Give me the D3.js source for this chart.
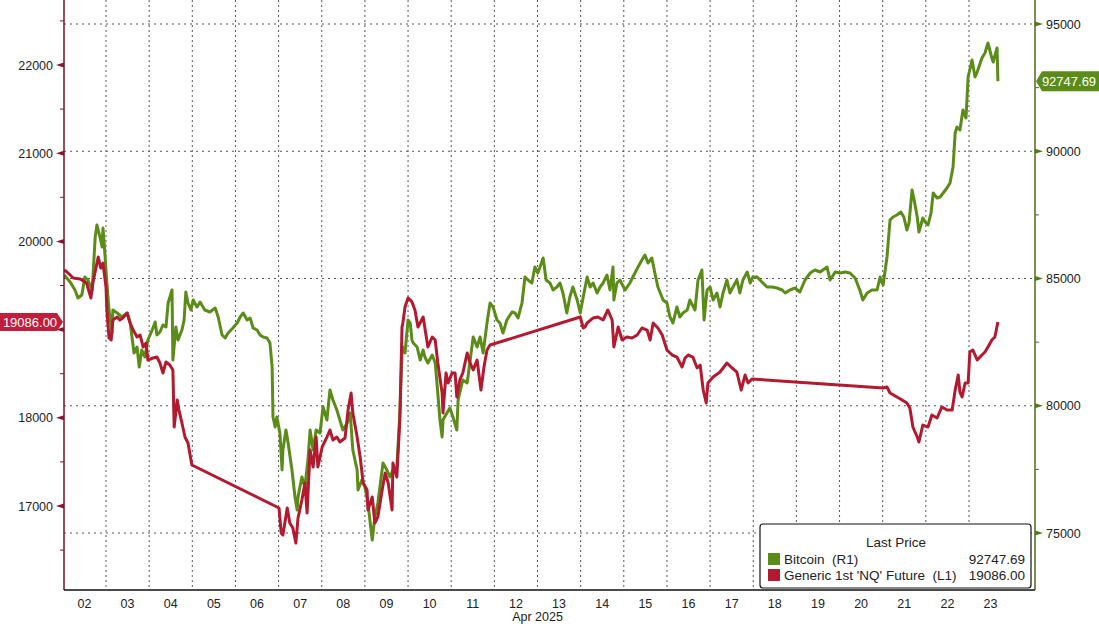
<!DOCTYPE html>
<html><head><meta charset="utf-8">
<script src="https://cdn.jsdelivr.net/npm/d3@7"></script>
<style>
body{margin:0;background:#fff;}
svg{display:block;font-family:"Liberation Sans",Arial,sans-serif;}
</style></head>
<body><svg id="c" width="1099" height="624"></svg>
<script>
// ---------- DATA ----------
const dayLabels = ["02","03","04","05","06","07","08","09","10","11","12","13","14","15","16","17","18","19","20","21","22","23"];
const monthLabel = "Apr 2025";
const leftTicks = [17000,18000,19000,20000,21000,22000];
const leftLabelTicks = [17000,18000,20000,21000,22000]; // 19000 hidden behind the last-price badge
const leftMinor = [16500,17500,18500,19500,20500,21500,22500];
const rightTicks = [75000,80000,85000,90000,95000];
const rightMinor = [77500,82500,87500,92500];
const seriesNames = ["Bitcoin  (R1)","Generic 1st 'NQ' Future  (L1)"];
const lastBtc = 92747.69;
const lastNq = 19086.00;

// NQ (left axis): time in days of April, value
const nqTimes = [2.03,2.09,2.24,2.40,2.55,2.65,2.70,2.82,2.88,2.93,3.00,3.02,3.07,3.12,3.16,3.26,3.32,3.39,3.49,3.56,3.63,3.72,3.79,3.86,3.93,3.97,4.09,4.18,4.25,4.32,4.39,4.48,4.55,4.58,4.65,4.69,4.76,4.83,4.90,4.99,
7.01,7.06,7.10,7.20,7.26,7.33,7.40,7.45,7.54,7.61,7.66,7.73,7.80,7.87,7.91,8.01,8.12,8.19,8.26,8.35,8.42,8.54,8.61,8.68,8.72,8.82,8.89,8.96,9.05,9.07,9.17,9.23,9.30,9.40,9.47,9.54,9.63,9.65,9.74,9.81,9.86,9.88,9.93,
10.00,10.05,10.09,10.16,10.23,10.35,10.46,10.56,10.63,10.69,10.79,10.81,10.88,10.93,11.02,11.09,11.13,11.20,11.27,11.37,11.44,11.51,11.60,11.69,11.76,11.83,11.90,
13.99,14.06,14.10,14.15,14.29,14.40,14.52,14.63,14.73,14.77,14.87,14.96,15.07,15.19,15.31,15.42,15.54,15.61,15.68,15.79,15.89,16.00,16.12,16.23,16.35,16.42,16.49,16.60,16.70,16.77,16.84,16.91,16.95,17.07,17.23,17.39,17.51,17.62,17.72,17.81,17.88,17.97,
21.01,21.10,21.17,21.33,21.45,21.56,21.63,21.70,21.80,21.84,21.93,22.05,22.14,22.26,22.37,22.49,22.61,22.68,22.75,22.79,22.84,22.91,22.98,23.02,23.09,23.19,23.30,23.37,23.44,23.53,23.60,23.67];
const nqValues = [19676,19656,19585,19574,19528,19358,19540,19823,19698,19755,19483,19222,18905,18882,19109,19143,19109,19132,19188,19075,18995,18916,18939,18803,18848,18655,18678,18689,18621,18508,18633,18599,18542,17896,18202,18088,17941,17782,17714,17465,
16977,16694,16671,16977,16807,16751,16580,16864,17068,17261,16921,17635,17442,17782,17442,17669,17782,17862,17748,17782,17726,17771,18088,18281,18054,17782,17556,17261,17181,16955,17102,16807,16875,17181,17374,17261,16955,17487,17329,17975,19029,19075,19256,
19358,19336,19313,19222,19029,19143,18803,18916,18882,18621,18281,18054,18508,18395,18508,18508,18236,18429,18508,18735,18621,18542,18655,18315,18576,18769,18825,
19143,19018,19029,19075,19132,19143,19109,19222,19109,18803,19029,18882,18916,18905,18939,19018,18995,18882,19075,19018,18939,18769,18712,18689,18576,18678,18712,18689,18565,18599,18315,18168,18395,18463,18519,18621,18565,18519,18315,18485,18395,18440,
18338,18349,18281,18236,18202,18168,18111,17896,17782,17726,17918,17896,18032,17998,18122,18088,18088,18315,18485,18292,18236,18395,18395,18746,18769,18655,18712,18746,18803,18882,18916,19086];

// Bitcoin (right axis)
const btcTimes = [2.03,2.17,2.28,2.35,2.44,2.51,2.58,2.68,2.75,2.79,2.86,2.91,2.93,2.98,3.02,3.07,3.14,3.16,3.26,3.37,3.49,3.56,3.65,3.72,3.77,3.83,3.90,3.97,4.07,4.14,4.18,4.25,4.32,4.39,4.44,4.53,4.55,4.62,4.67,4.76,4.81,4.85,4.90,4.97,
5.02,5.11,5.18,5.29,5.41,5.53,5.60,5.69,5.76,5.83,5.94,6.04,6.11,6.18,6.27,6.34,6.41,6.50,6.57,6.64,6.73,6.80,6.85,6.87,6.92,6.96,7.03,7.08,7.10,7.17,7.22,7.31,7.38,7.43,7.45,7.54,7.61,7.68,7.73,7.80,7.87,7.96,
8.03,8.12,8.19,8.26,8.35,8.42,8.49,8.59,8.66,8.72,8.82,8.84,8.93,9.00,9.07,9.17,9.23,9.30,9.42,9.51,9.58,9.65,9.74,9.81,9.86,9.88,9.93,10.00,10.05,10.09,10.12,10.21,10.28,10.35,10.39,10.46,10.56,10.63,10.67,10.74,10.79,10.81,10.90,10.97,
11.04,11.13,11.16,11.27,11.37,11.44,11.51,11.60,11.67,11.74,11.83,11.90,11.97,12.06,12.13,12.20,12.29,12.41,12.48,12.55,12.64,12.71,12.78,12.87,12.94,13.01,13.13,13.20,13.29,13.36,13.45,13.52,13.59,13.68,13.75,13.82,13.92,13.99,
14.06,14.15,14.22,14.29,14.38,14.45,14.52,14.61,14.68,14.75,14.77,14.84,14.91,15.03,15.14,15.21,15.33,15.42,15.49,15.56,15.65,15.72,15.79,15.91,16.00,16.07,16.14,16.23,16.30,16.37,16.47,16.53,16.65,16.72,16.81,16.86,16.93,17.00,
17.07,17.16,17.23,17.30,17.39,17.46,17.53,17.62,17.69,17.76,17.86,17.93,17.99,18.09,18.20,18.32,18.44,18.55,18.67,18.74,18.85,18.97,19.08,19.20,19.32,19.43,19.55,19.71,19.78,19.90,20.01,20.13,20.24,20.36,20.47,20.54,20.64,20.75,20.87,20.94,
21.01,21.10,21.17,21.24,21.33,21.42,21.49,21.56,21.61,21.68,21.73,21.80,21.84,21.93,22.00,22.05,22.12,22.17,22.26,22.33,22.40,22.49,22.56,22.63,22.68,22.72,22.79,22.86,22.93,22.98,23.07,23.14,23.19,23.30,23.37,23.44,23.53,23.56,23.65,23.67];
const btcValues = [85137,84862,84548,84233,84352,85059,84941,84548,86631,87102,86631,86238,86984,85845,84823,83762,82858,83762,83644,83487,83644,83251,82073,82308,81522,82190,81915,82583,82976,83291,82780,82898,83173,83094,84037,84548,81798,83094,82583,82976,83369,84469,84037,83762,
84155,83880,84077,83762,83684,83841,83487,82780,82662,82858,83055,83251,83487,83644,83369,83448,83055,82976,82780,82701,82662,82465,81522,79558,79165,79558,78929,77475,78261,79047,78536,77475,76414,75904,76414,77200,76807,77868,79047,78261,79047,78929,
79951,79440,80619,80226,79833,79440,79047,79322,79715,78261,77475,76689,77082,76807,76179,74725,75629,76179,77750,77475,77200,77475,77593,79715,82073,82308,82073,83369,83251,82583,82465,82308,81798,82190,81915,81680,81994,81680,80894,79440,78772,79440,79715,79912,
79558,79047,80226,81012,80894,81798,82701,82308,82701,82073,83251,84037,83880,83369,83251,82858,83369,83684,83644,83448,84037,85059,84941,84823,85452,85216,85805,84941,84823,84548,84666,84823,84430,83644,84273,84666,84155,83644,
84273,85059,84666,84823,84430,84666,84823,85137,84548,85452,84155,84823,84941,84548,84823,85059,85452,85727,85923,85609,85805,85216,84666,84155,84037,83487,83251,83880,83487,83644,83762,84155,83762,84941,85334,83369,84548,84666,
84155,84430,83880,84430,84941,84430,84666,84941,84430,84941,85255,84823,85059,85059,84862,84666,84666,84626,84548,84430,84548,84626,84469,84941,85216,85334,85255,85452,84941,85255,85216,85255,85216,85020,84548,84155,84430,84548,84548,85059,
84745,85845,87299,87416,87495,87613,87416,86906,87181,88477,88084,87416,86827,87377,87181,87102,87574,88359,88163,88202,88359,88556,88752,89381,90717,90953,90835,91621,91306,92917,93585,92917,93114,93664,93860,94253,93664,93507,94057,92748];

// ---------- CHART ----------
const W = 1099, H = 624;
const L = 64, R = 1035, T = 0, B = 590;
const colBtc = "#5a8c17", colNq = "#b3192f";
const svg = d3.select("#c");

const x = d3.scaleLinear().domain([3, 23]).range([106, 969]);
const yL = d3.scaleLinear().domain([17000, 22000]).range([506, 65]);
const yR = d3.scaleLinear().domain([75000, 95000]).range([533, 24]);

// grid
const dayBounds = d3.range(3, 24);
svg.append("g").selectAll("line").data(dayBounds).join("line")
  .attr("x1", d => x(d)).attr("x2", d => x(d)).attr("y1", T).attr("y2", B)
  .attr("stroke", "#555").attr("stroke-width", 1).attr("stroke-dasharray", "2,3");
svg.append("g").selectAll("line").data(rightTicks).join("line")
  .attr("x1", L).attr("x2", R).attr("y1", d => yR(d)).attr("y2", d => yR(d))
  .attr("stroke", "#555").attr("stroke-width", 1).attr("stroke-dasharray", "2,4");

// clip
svg.append("clipPath").attr("id", "clip").append("rect")
  .attr("x", L).attr("y", T).attr("width", R - L).attr("height", B - T);

const btcData = btcTimes.map((t, i) => [t, btcValues[i]]);
const nqData = nqTimes.map((t, i) => [t, nqValues[i]]);

const g = svg.append("g").attr("clip-path", "url(#clip)");
g.append("path").datum(btcData)
  .attr("d", d3.line().x(d => x(d[0])).y(d => yR(d[1])))
  .attr("fill", "none").attr("stroke", colBtc).attr("stroke-width", 3).attr("stroke-linejoin", "round");
g.append("path").datum(nqData)
  .attr("d", d3.line().x(d => x(d[0])).y(d => yL(d[1])))
  .attr("fill", "none").attr("stroke", colNq).attr("stroke-width", 3).attr("stroke-linejoin", "round");

// left axis
const axL = svg.append("g").attr("transform", `translate(${L},0)`)
  .call(d3.axisLeft(yL).tickValues(leftLabelTicks).tickSize(0).tickPadding(11).tickFormat(d3.format("d")));
axL.select(".domain").remove();
axL.selectAll("text").attr("font-size", 12.5).attr("fill", "#222").attr("font-family", "Liberation Sans, Arial, sans-serif");
svg.append("line").attr("x1", L).attr("x2", L).attr("y1", 0).attr("y2", B).attr("stroke", "#7a1426").attr("stroke-width", 1.5);
svg.append("g").selectAll("path").data(leftTicks).join("path")
  .attr("d", d => `M${L},${yL(d) - 2.5}L${L - 8},${yL(d)}L${L},${yL(d) + 2.5}Z`).attr("fill", "#8a1528");
svg.append("g").selectAll("line").data(leftMinor).join("line")
  .attr("x1", L - 4).attr("x2", L).attr("y1", d => yL(d)).attr("y2", d => yL(d)).attr("stroke", "#7a1426");

// right axis
const axR = svg.append("g").attr("transform", `translate(${R},0)`)
  .call(d3.axisRight(yR).tickValues(rightTicks).tickSize(0).tickPadding(11).tickFormat(d3.format("d")));
axR.select(".domain").remove();
axR.selectAll("text").attr("font-size", 12.5).attr("fill", "#222").attr("font-family", "Liberation Sans, Arial, sans-serif");
svg.append("line").attr("x1", R).attr("x2", R).attr("y1", 0).attr("y2", B).attr("stroke", "#4f6a1c").attr("stroke-width", 1.5);
svg.append("g").selectAll("path").data(rightTicks).join("path")
  .attr("d", d => `M${R},${yR(d) - 2.5}L${R + 8},${yR(d)}L${R},${yR(d) + 2.5}Z`).attr("fill", "#4f7a17");
svg.append("g").selectAll("line").data(rightMinor).join("line")
  .attr("x1", R).attr("x2", R + 4).attr("y1", d => yR(d)).attr("y2", d => yR(d)).attr("stroke", "#4f6a1c");

// bottom axis
svg.append("line").attr("x1", L).attr("x2", R).attr("y1", B).attr("y2", B).attr("stroke", "#111").attr("stroke-width", 1.5);
svg.append("g").selectAll("text").data(dayLabels).join("text")
  .attr("x", (d, i) => x(2.5 + i)).attr("y", 608).attr("text-anchor", "middle")
  .attr("font-size", 12.5).attr("fill", "#222").text(d => d);
svg.append("text").attr("x", x(13)).attr("y", 621).attr("text-anchor", "middle")
  .attr("font-size", 12.5).attr("fill", "#222").text(monthLabel);

// last-price badges
const fmt = d3.format(".2f");
const yn = yL(lastNq);
svg.append("path").attr("d", `M0,${yn - 9}H57L63,${yn}L57,${yn + 9}H0Z`).attr("fill", "#c21d3b");
svg.append("text").attr("x", 30).attr("y", yn + 4.5).attr("text-anchor", "middle")
  .attr("font-size", 13).attr("fill", "#fff").text(fmt(lastNq));
const yb = yR(lastBtc);
svg.append("path").attr("d", `M${R + 1},${yb}L${R + 7},${yb - 10}H${W}V${yb + 10}H${R + 7}Z`).attr("fill", "#5a8c17");
svg.append("text").attr("x", 1069).attr("y", yb + 4.5).attr("text-anchor", "middle")
  .attr("font-size", 13).attr("fill", "#fff").text(fmt(lastBtc));

// legend
const lg = svg.append("g");
lg.append("rect").attr("x", 760).attr("y", 524).attr("width", 271).attr("height", 64).attr("rx", 3)
  .attr("fill", "#fff").attr("stroke", "#111").attr("stroke-width", 1.2);
lg.append("text").attr("x", 896).attr("y", 547).attr("text-anchor", "middle").attr("font-size", 13.5).attr("fill", "#222").text("Last Price");
const rows = [[seriesNames[0], colBtc, lastBtc], [seriesNames[1], colNq, lastNq]];
rows.forEach((r, i) => {
  const yy = 564 + i * 16;
  lg.append("rect").attr("x", 768).attr("y", yy - 11).attr("width", 12).attr("height", 12).attr("fill", r[1]);
  lg.append("text").attr("x", 784).attr("y", yy).attr("font-size", 13.5).attr("fill", "#222")
    .attr("xml:space", "preserve").style("white-space", "pre").text(r[0]);
  lg.append("text").attr("x", 1025).attr("y", yy).attr("text-anchor", "end").attr("font-size", 13.5).attr("fill", "#222").text(fmt(r[2]));
});
</script>
</body></html>
